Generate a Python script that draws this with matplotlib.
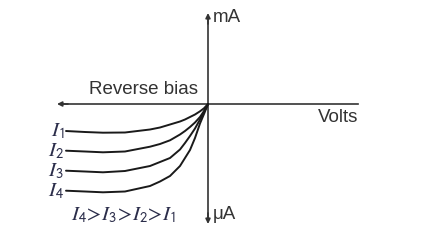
'''
Reverse-bias characteristics of a photodiode for four light intensities.
'''

import matplotlib
matplotlib.use('Agg')
import matplotlib.pyplot as plt

# data (volts negative = reverse bias, current in arbitrary units)
volts = [-14.2, -12.3, -10.5, -8.3, -5.8, -4.8, -3.8, -2.8, -2.3, -1.8, -1.3, -0.8, -0.4, 0.0]
i1 = [-2.70, -2.80, -2.87, -2.85, -2.55, -2.35, -2.05, -1.75, -1.55, -1.30, -1.05, -0.73, -0.43, 0.0]
i2 = [-4.67, -4.75, -4.83, -4.75, -4.27, -4.00, -3.63, -3.05, -2.70, -2.30, -1.85, -1.30, -0.70, 0.0]
i3 = [-6.67, -6.75, -6.83, -6.70, -6.20, -5.80, -5.40, -4.55, -3.90, -3.20, -2.45, -1.55, -0.80, 0.0]
i4 = [-8.67, -8.75, -8.83, -8.75, -8.20, -7.75, -7.20, -6.20, -5.40, -4.60, -3.40, -1.95, -1.00, 0.0]
curves = [i1, i2, i3, i4]
labels = [r'$I_{\mathsf{1}}$', r'$I_{\mathsf{2}}$', r'$I_{\mathsf{3}}$', r'$I_{\mathsf{4}}$']

plt.rcParams['font.family'] = ['Liberation Sans', 'DejaVu Sans']
plt.rcParams['mathtext.fontset'] = 'stix'

fig = plt.figure(figsize=(4.4, 2.42), dpi=100)
ax = fig.add_axes([0, 0, 1, 1])
ax.set_xlim(-20.8, 23.2)
ax.set_ylim(-13.8, 10.4)
ax.axis('off')

axis_col = '#333333'
text_col = '#2b2d4a'

# axes with arrow heads
def arrow(tip, tail):
  ax.annotate('', xy=tip, xytext=tail,
              arrowprops=dict(arrowstyle='-|>', color=axis_col, lw=1.2,
                              mutation_scale=7, shrinkA=0, shrinkB=0))

ax.plot([-14.8, 15.0], [0, 0], color=axis_col, lw=1.2)
arrow((-15.1, 0), (-14.0, 0))
ax.plot([0, 0], [-11.5, 8.7], color=axis_col, lw=1.2)
arrow((0, 9.1), (0, 8.0))
arrow((0, -12.0), (0, -10.9))

# curves
for c, lab in zip(curves, labels):
  ax.plot(volts, c, color='#1a1a1a', lw=1.4, solid_capstyle='round',
          solid_joinstyle='round')
  ax.text(volts[0] - 0.2, c[0], lab, ha='right', va='center',
          fontsize=15, color=text_col)

ax.text(-6.5, 1.4, 'Reverse bias', ha='center', va='center', fontsize=13.5, color=axis_col)
ax.text(15.0, -1.3, 'Volts', ha='right', va='center', fontsize=13.5, color=axis_col)
ax.text(0.5, 8.6, 'mA', ha='left', va='center', fontsize=13.5, color=axis_col)
ax.text(0.5, -11.1, 'μA', ha='left', va='center', fontsize=13.5, color=axis_col)
ax.text(-8.45, -11.1, r'$I_{\mathsf{4}}\!>\!I_{\mathsf{3}}\!>\!I_{\mathsf{2}}\!>\!I_{\mathsf{1}}$',
        ha='center', va='center', fontsize=15, color=text_col)

fig.savefig('out.png', dpi=100)
